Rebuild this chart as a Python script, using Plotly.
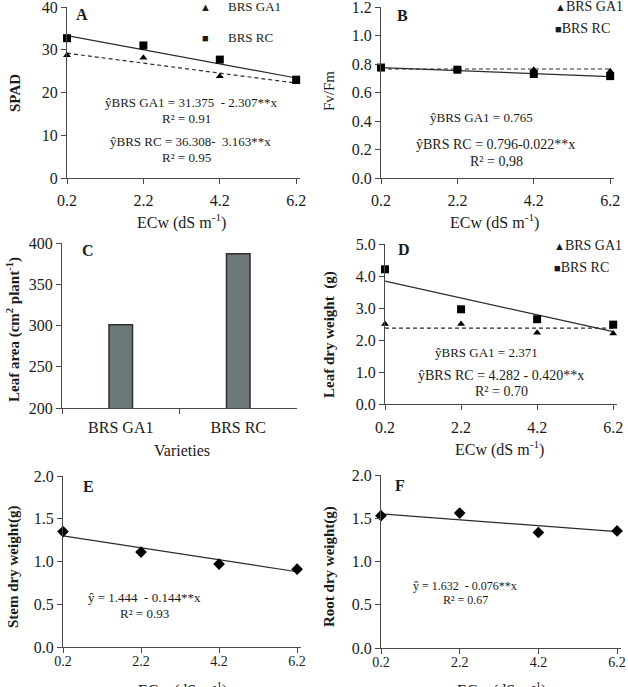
import plotly.graph_objects as go

W, H = 628, 687
FONT = "Liberation Serif, Times New Roman, serif"
AX = "#4a4a4a"

# ---------------- data ----------------
ecw = [0.2, 2.2, 4.2, 6.2]
ecw_ticks = ["0.2", "2.2", "4.2", "6.2"]
ecw_ends = [0.2, 6.2]

spad_ga1 = [28.7, 28.1, 23.8, 22.4]
spad_rc = [32.7, 31.0, 27.7, 23.0]
spad_fit_ga1 = [29.2, 22.2]
spad_fit_rc = [33.3, 23.4]

fvfm_ga1 = [0.775, 0.76, 0.76, 0.75]
fvfm_rc = [0.775, 0.76, 0.73, 0.715]
fvfm_fit_ga1 = [0.765, 0.765]
fvfm_fit_rc = [0.774, 0.712]

varieties = ["BRS GA1", "BRS RC"]
leaf_area = [301, 387]

ldw_ga1 = [2.5, 2.5, 2.23, 2.2]
ldw_rc = [4.21, 2.96, 2.65, 2.48]
ldw_fit_ga1 = [2.371, 2.371]
ldw_fit_rc = [3.84, 2.26]

stem_dw = [1.35, 1.11, 0.97, 0.91]
stem_fit = [1.30, 0.88]

root_dw = [1.53, 1.56, 1.335, 1.354]
root_fit = [1.55, 1.345]

# ---------------- layout helpers ----------------
def px(x):
    return x / W

def py(y):
    return 1 - y / H

# axis boxes in pixels: (left, right, top, bottom)
boxes = {
    1: (67, 300, 7, 178),
    2: (381, 614, 7, 178),
    3: (62, 297, 243, 408),
    4: (385, 617, 244, 404),
    5: (63, 301, 476, 647),
    6: (381, 621, 475, 648),
}
x_standoff = {1: 3, 2: 3, 3: 5, 4: 4, 5: -4, 6: -4}

fig = go.Figure()

def xa(i):
    return "x" if i == 1 else f"x{i}"

def ya(i):
    return "y" if i == 1 else f"y{i}"

def pts(i, y, symbol, size, name=""):
    fig.add_trace(go.Scatter(
        x=ecw, y=y, mode="markers", xaxis=xa(i), yaxis=ya(i),
        marker=dict(symbol=symbol, size=size, color="black"),
        name=name, showlegend=False, cliponaxis=False,
    ))

def fit(i, y, dash):
    fig.add_trace(go.Scatter(
        x=ecw_ends, y=y, mode="lines", xaxis=xa(i), yaxis=ya(i),
        line=dict(color="#2b2b2b", width=1.2, dash=dash),
        showlegend=False, hoverinfo="skip", cliponaxis=False,
    ))

DASH = "4px,3px"

# A
fit(1, spad_fit_ga1, DASH)
fit(1, spad_fit_rc, "solid")
pts(1, spad_ga1, "triangle-up", 7, "BRS GA1")
pts(1, spad_rc, "square", 8, "BRS RC")
# B
fit(2, fvfm_fit_ga1, DASH)
fit(2, fvfm_fit_rc, "solid")
pts(2, fvfm_ga1, "triangle-up", 7, "BRS GA1")
pts(2, fvfm_rc, "square", 8, "BRS RC")
# C
fig.add_trace(go.Bar(
    x=varieties, y=leaf_area, xaxis="x3", yaxis="y3", width=0.2,
    marker=dict(color="#6d7979", line=dict(color="#2f2f2f", width=1.5)),
    showlegend=False,
))
# D
fit(4, ldw_fit_ga1, DASH)
fit(4, ldw_fit_rc, "solid")
pts(4, ldw_ga1, "triangle-up", 7, "BRS GA1")
pts(4, ldw_rc, "square", 8, "BRS RC")
# E
fit(5, stem_fit, "solid")
pts(5, stem_dw, "diamond", 9)
# F
fit(6, root_fit, "solid")
pts(6, root_dw, "diamond", 9)

yranges = {1: [0, 40], 2: [0, 1.2], 3: [200, 400], 4: [0, 5], 5: [0, 2], 6: [0, 2]}
ydticks = {1: 10, 2: 0.2, 3: 50, 4: 1, 5: 0.5, 6: 0.5}
yfmt = {1: "d", 2: ".1f", 3: "d", 4: ".1f", 5: ".1f", 6: ".1f"}

layout = dict(
    width=W, height=H, margin=dict(l=0, r=0, t=0, b=0),
    paper_bgcolor="white", plot_bgcolor="white",
    font=dict(family=FONT, color="#1a1a1a", size=16),
    showlegend=False,
)

for i, (l, r, t, b) in boxes.items():
    xkey = "xaxis" if i == 1 else f"xaxis{i}"
    ykey = "yaxis" if i == 1 else f"yaxis{i}"
    tick_size = 14 if i in (5, 6) else 16
    xcommon = dict(
        domain=[px(l), px(r)], anchor=ya(i), showgrid=False, zeroline=False,
        showline=True, linecolor=AX, linewidth=1, ticks="outside",
        ticklen=5, tickcolor=AX, tickwidth=1,
        tickfont=dict(size=tick_size, family=FONT, color="#1a1a1a"),
        automargin=False, ticklabelstandoff=x_standoff[i],
        ticklabeloverflow="allow",
    )
    if i == 3:
        xcommon.update(type="category", range=[-0.5, 1.5], tickson="boundaries")
    else:
        xcommon.update(range=[0.2, 6.3], tickvals=ecw, ticktext=ecw_ticks)
    layout[xkey] = xcommon
    layout[ykey] = dict(
        domain=[py(b), py(t)], anchor=xa(i), range=yranges[i],
        dtick=ydticks[i], tick0=0, tickformat=yfmt[i],
        showgrid=False, zeroline=False, showline=True, linecolor=AX,
        linewidth=1, ticks="outside", ticklen=5, tickcolor=AX, tickwidth=1,
        tickfont=dict(size=16, family=FONT, color="#1a1a1a"),
        automargin=False, ticklabeloverflow="allow",
    )

fig.update_layout(**layout)

annotations = []

def ann(x, y, text, size=13, bold=False, xanchor="center", yanchor="middle", angle=0):
    if bold:
        text = f"<b>{text}</b>"
    annotations.append(dict(
        x=px(x), y=py(y), xref="paper", yref="paper", text=text,
        showarrow=False, xanchor=xanchor, yanchor=yanchor, textangle=angle,
        font=dict(size=size, family=FONT, color="#1a1a1a"),
    ))

XT = "ECw (dS m<sup>-1</sup>)"
TRI = "<span style='font-size:11px'>▲</span>"
SQ = "<span style='font-size:11px'>■</span>"

# Panel A
ann(82, 14, "A", 16, bold=True)
ann(15, 93, "SPAD", 15, bold=True, angle=-90)
ann(181, 221, XT, 16)
ann(191, 103, "ŷBRS GA1 = 31.375  - 2.307**x", 13)
ann(186, 118, "R² = 0.91", 13)
ann(190, 142, "ŷBRS RC = 36.308-  3.163**x", 13)
ann(186, 157, "R² = 0.95", 13)
ann(205, 7, TRI, 11)
ann(205, 38, SQ, 11)
ann(226, 7, "BRS GA1", 13, xanchor="left")
ann(226, 38, "BRS RC", 13, xanchor="left")

# Panel B
ann(402, 15, "B", 16, bold=True)
ann(329, 91, "Fv/Fm", 15, angle=-90)
ann(494, 221, XT, 16)
ann(481, 117, "ŷBRS GA1 = 0.765", 13)
ann(495, 145, "ŷBRS RC = 0.796-0.022**x", 14)
ann(496, 161, "R² = 0,98", 14)
ann(553, 6, TRI + "BRS GA1", 14, xanchor="left")
ann(553, 28, SQ + "BRS RC", 14, xanchor="left")

# Panel C
ann(88, 251, "C", 16, bold=True)
ann(13, 330, "Leaf area (cm<sup>2</sup> plant<sup>-1</sup>)", 15, bold=True, angle=-90)
ann(182, 450, "Varieties", 16)

# Panel D
ann(404, 249, "D", 16, bold=True)
ann(329, 335, "Leaf dry weight  (g)", 15, bold=True, angle=-90)
ann(499, 448, XT, 16)
ann(486, 352, "ŷBRS GA1 = 2.371", 13)
ann(501, 375, "ŷBRS RC = 4.282 - 0.420**x", 14)
ann(501, 391, "R² = 0.70", 14)
ann(552, 246, TRI + "BRS GA1", 14, xanchor="left")
ann(552, 268, SQ + "BRS RC", 14, xanchor="left")

# Panel E
ann(88, 486, "E", 16, bold=True)
ann(13, 567, "Stem dry weight(g)", 15, bold=True, angle=-90)
ann(144, 597, "ŷ = 1.444  - 0.144**x", 13)
ann(144, 613, "R² = 0.93", 13)
ann(182, 690, XT, 16)

# Panel F
ann(400, 485, "F", 16, bold=True)
ann(329, 567, "Root dry weight(g)", 15, bold=True, angle=-90)
ann(465, 586, "ŷ = 1.632  - 0.076**x", 12)
ann(465, 600, "R² = 0.67", 12)
ann(501, 690, XT, 16)

fig.update_layout(annotations=annotations)

fig.write_html("out.html")
